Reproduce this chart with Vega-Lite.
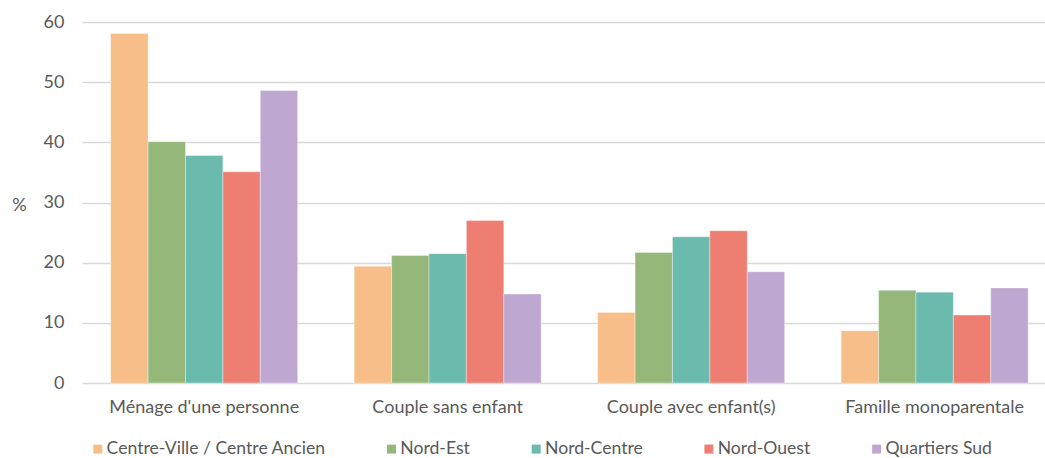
{
  "$schema": "https://vega.github.io/schema/vega-lite/v6.json",
  "autosize": {"type": "none"},
  "width": 963,
  "height": 361,
  "padding": {"left": 82, "top": 22, "right": 0, "bottom": 75},
  "background": "white",
  "config": {
    "font": "Lato",
    "view": {"stroke": null},
    "axis": {"labelFont": "Lato", "titleFont": "Lato", "labelColor": "#595959", "titleColor": "#595959", "labelFontSize": 18, "titleFontSize": 18, "titleFontWeight": "normal", "labelLimit": 0},
    "legend": {"labelFont": "Lato", "labelColor": "#595959", "labelFontSize": 17.6, "labelLimit": 0}
  },
  "data": {
    "values": [
      {"type": "Ménage d'une personne", "zone": "Centre-Ville / Centre Ancien", "pct": 58.1},
      {"type": "Ménage d'une personne", "zone": "Nord-Est", "pct": 40.1},
      {"type": "Ménage d'une personne", "zone": "Nord-Centre", "pct": 37.8},
      {"type": "Ménage d'une personne", "zone": "Nord-Ouest", "pct": 35.1},
      {"type": "Ménage d'une personne", "zone": "Quartiers Sud", "pct": 48.6},
      {"type": "Couple sans enfant", "zone": "Centre-Ville / Centre Ancien", "pct": 19.4},
      {"type": "Couple sans enfant", "zone": "Nord-Est", "pct": 21.2},
      {"type": "Couple sans enfant", "zone": "Nord-Centre", "pct": 21.5},
      {"type": "Couple sans enfant", "zone": "Nord-Ouest", "pct": 27.0},
      {"type": "Couple sans enfant", "zone": "Quartiers Sud", "pct": 14.8},
      {"type": "Couple avec enfant(s)", "zone": "Centre-Ville / Centre Ancien", "pct": 11.7},
      {"type": "Couple avec enfant(s)", "zone": "Nord-Est", "pct": 21.7},
      {"type": "Couple avec enfant(s)", "zone": "Nord-Centre", "pct": 24.3},
      {"type": "Couple avec enfant(s)", "zone": "Nord-Ouest", "pct": 25.3},
      {"type": "Couple avec enfant(s)", "zone": "Quartiers Sud", "pct": 18.5},
      {"type": "Famille monoparentale", "zone": "Centre-Ville / Centre Ancien", "pct": 8.7},
      {"type": "Famille monoparentale", "zone": "Nord-Est", "pct": 15.4},
      {"type": "Famille monoparentale", "zone": "Nord-Centre", "pct": 15.1},
      {"type": "Famille monoparentale", "zone": "Nord-Ouest", "pct": 11.3},
      {"type": "Famille monoparentale", "zone": "Quartiers Sud", "pct": 15.8}
    ]
  },
  "mark": {"type": "bar", "stroke": "white", "strokeWidth": 0.6, "strokeOpacity": 0.6},
  "encoding": {
    "x": {
      "field": "type", "type": "nominal", "sort": null,
      "scale": {"paddingInner": 0.232, "paddingOuter": 0.0935, "align": 0.63},
      "axis": {"title": null, "labelAngle": 0, "ticks": false, "domain": false, "labelPadding": 15}
    },
    "xOffset": {
      "field": "zone", "type": "nominal", "sort": null,
      "scale": {"paddingInner": 0, "paddingOuter": 0}
    },
    "y": {
      "field": "pct", "type": "quantitative",
      "scale": {"domain": [0, 60], "nice": false},
      "axis": {"title": "%", "titleAngle": 0, "titleAlign": "center", "titleBaseline": "middle", "titleX": -63, "titleY": 183, "values": [0, 10, 20, 30, 40, 50, 60], "ticks": false, "domain": false, "labelPadding": 18, "gridColor": "#d9d9d9", "gridWidth": 1.3}
    },
    "color": {
      "field": "zone", "type": "nominal", "sort": null,
      "scale": {
        "domain": ["Centre-Ville / Centre Ancien", "Nord-Est", "Nord-Centre", "Nord-Ouest", "Quartiers Sud"],
        "range": ["#F7BE89", "#95B87A", "#6BBAAE", "#EE7E72", "#BEA8D2"]
      },
      "legend": {"title": null, "orient": "none", "legendX": 7, "legendY": 418, "direction": "horizontal", "columns": 5, "columnPadding": 56.7, "symbolType": "square", "symbolSize": 81, "symbolStrokeWidth": 0, "labelOffset": 0}
    }
  }
}
